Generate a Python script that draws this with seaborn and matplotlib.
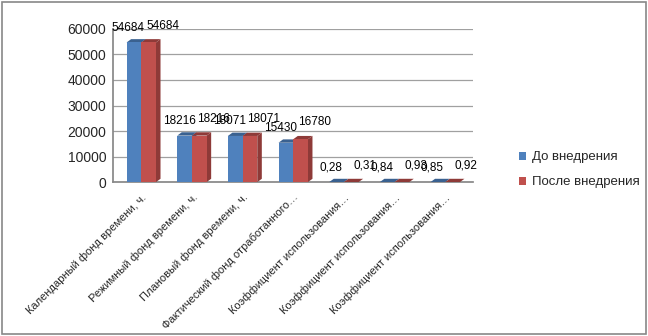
import matplotlib
matplotlib.use("Agg")
import matplotlib.pyplot as plt
import matplotlib.patches as mpatches
import seaborn as sns
import pandas as pd
import numpy as np

categories = [
    "Календарный фонд времени, ч.",
    "Режимный фонд времени, ч.",
    "Плановый фонд времени, ч.",
    "Фактический фонд отработанного…",
    "Коэффициент использования…",
    "Коэффициент использования…",
    "Коэффициент использования…",
]
before = [54684, 18216, 18071, 15430, 0.28, 0.84, 0.85]
after = [54684, 18216, 18071, 16780, 0.31, 0.93, 0.92]
series_names = ["До внедрения", "После внедрения"]
colors = ["#4F81BD", "#C0504D"]
side_colors = ["#3A6190", "#8E3A38"]
yticks = [0, 10000, 20000, 30000, 40000, 50000, 60000]

sns.set_theme(style="white")
plt.rcParams["font.family"] = ["Liberation Sans", "DejaVu Sans"]

keys = [f"c{i}" for i in range(len(categories))]
df = pd.DataFrame({
    "cat": keys * 2,
    "series": [series_names[0]] * len(keys) + [series_names[1]] * len(keys),
    "value": before + after,
})

fig = plt.figure(figsize=(6.48, 3.36), dpi=100)
ax = fig.add_axes([0.175, 0.458, 0.555, 0.456])

sns.barplot(data=df, x="cat", y="value", hue="series", palette=colors,
            width=0.58, saturation=1, ax=ax, legend=True, edgecolor="none", zorder=3)

ax.set_ylim(0, 60000)
ax.set_yticks(yticks)
ax.set_yticklabels([str(t) for t in yticks], fontsize=10)
ax.yaxis.grid(True, color="#A0A0A0", linewidth=0.9, zorder=0)
ax.set_xlabel("")
ax.set_ylabel("")
ax.set_xticks(range(len(categories)))
ax.set_xticklabels(categories, rotation=45, ha="right", rotation_mode="anchor", fontsize=8.0)
ax.tick_params(axis="x", length=0, pad=7)
ax.tick_params(axis="y", length=0, pad=5)
for s in ["top", "right"]:
    ax.spines[s].set_visible(False)
for s in ["left", "bottom"]:
    ax.spines[s].set_color("#888888")
ax.set_xlim(-0.55, len(categories) - 0.45)

# pseudo-3D side and top faces derived from bar patches
dx, dy = 0.09, 1300
for ci, container in enumerate(ax.containers):
    for bar in container:
        x0, w, h = bar.get_x(), bar.get_width(), bar.get_height()
        side = mpatches.Polygon([[x0 + w, 0], [x0 + w + dx, dy], [x0 + w + dx, h + dy], [x0 + w, h]],
                                closed=True, facecolor=side_colors[ci], edgecolor="none", zorder=2.9)
        top = mpatches.Polygon([[x0, h], [x0 + dx, h + dy], [x0 + w + dx, h + dy], [x0 + w, h]],
                               closed=True, facecolor=side_colors[ci], edgecolor="none", zorder=2.9)
        ax.add_patch(side)
        ax.add_patch(top)

# value labels (offsets in points)
offsets = [(-4, 4), (10, 5.5)]
for ci, (container, vals) in enumerate(zip(ax.containers, [before, after])):
    for bar, v in zip(container, vals):
        txt = f"{v:g}".replace(".", ",")
        ax.annotate(txt, (bar.get_x() + bar.get_width() / 2, bar.get_height() + dy),
                    xytext=offsets[ci], textcoords="offset points",
                    ha="center", va="bottom", fontsize=8.5, color="#000000", annotation_clip=False)

leg = ax.legend(loc="center left", bbox_to_anchor=(1.095, 0.08), frameon=False,
                fontsize=9.5, handlelength=0.55, handleheight=0.55, handletextpad=0.4, labelspacing=1.0)

fig.patches.append(mpatches.Rectangle((0.003, 0.005), 0.994, 0.99, transform=fig.transFigure,
                                      fill=False, edgecolor="#888888", linewidth=1.2))

fig.savefig("out.png", dpi=100)
